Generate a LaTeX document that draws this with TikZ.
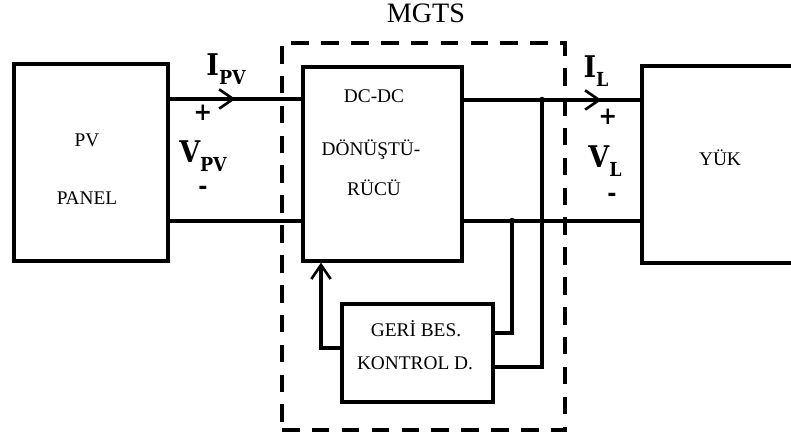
\documentclass[tikz,border=0pt]{standalone}
\usepackage{fontspec}
\setmainfont{Liberation Serif}
\newfontfamily\sigfont{DejaVu Serif Condensed}
\usetikzlibrary{arrows.meta,decorations.markings}

\newcommand{\siglabel}[2]{{\sigfont\bfseries\fontsize{17}{17}\selectfont #1\raisebox{-0.55ex}{\fontsize{11}{11}\selectfont #2}}}

\begin{document}
\begin{tikzpicture}[x=0.02cm, y=-0.02cm,
  blok/.style={draw, line width=1.9pt, inner sep=0pt},
  wire/.style={line width=1.9pt},
  barb/.style={-{Straight Barb[length=8pt,width=11pt,line width=1.5pt]}},
  midbarb/.style={postaction={decorate}, decoration={markings,
    mark=at position #1 with {\arrow{Straight Barb[length=8pt,width=11pt,line width=1.5pt]}}}},
  txt/.style={font=\fontsize{11}{13}\selectfont, inner sep=0pt},
  sign/.style={font=\sigfont\bfseries\fontsize{14}{14}\selectfont, inner sep=0pt},
  mgtsbox/.style={draw, line width=2.3pt, dash pattern=on 10 off 7, inner sep=0pt}]
\useasboundingbox (0,0) rectangle (791,438);
\clip (0,0) rectangle (791,438);

% blocks
\node[blok, minimum width=3.08cm, minimum height=3.94cm] (pv) at (91,162.5) {};
\node[blok, minimum width=3.18cm, minimum height=3.88cm] (dc) at (382.5,164) {};
\node[blok, minimum width=3.16cm, minimum height=3.94cm] (yuk) at (721,164.5) {};
\node[blok, minimum width=3.02cm, minimum height=1.96cm] (ctrl) at (417.5,353) {};
\node[mgtsbox, minimum width=5.66cm, minimum height=7.74cm] (mgts) at (423.5,236.5) {};

% texts
\node[font=\fontsize{16}{18}\selectfont] (mgtslbl) at (426,13) {MGTS};
\node[txt] (pvtxt) at (87,140) {PV};
\node[txt] (paneltxt) at (87,198) {PANEL};
\node[txt] (dctxt) at (374,96) {DC-DC};
\node[txt] (donustu) at (371,150) {DÖNÜŞTÜ-};
\node[txt] (rucu) at (374,188) {RÜCÜ};
\node[txt] (yuktxt) at (720,158) {YÜK};
\node[txt] (geri) at (416,329) {GERİ BES.};
\node[txt] (kontrol) at (415,363) {KONTROL D.};

% signals
\node[inner sep=0pt] (ipv) at (226,69) {\siglabel{I}{PV}};
\node[inner sep=0pt] (vpv) at (203,156) {\siglabel{V}{PV}};
\node[sign] (ppv) at (203,113) {+};
\node[sign] (mpv) at (203,190) {-};
\node[inner sep=0pt] (il) at (596,71) {\siglabel{I}{L}};
\node[inner sep=0pt] (vl) at (605,161) {\siglabel{V}{L}};
\node[sign] (pl) at (608,117) {+};
\node[sign] (ml) at (612,197) {-};

% wires
\coordinate (inl) at (0,99);
\coordinate (outl) at (0,100);
\coordinate (botl) at (0,221);
\coordinate (jt) at (542,100);
\coordinate (jb) at (512,221);
\coordinate (c1) at (0,333);
\coordinate (c2) at (0,367);
\coordinate (fb) at (321,348);

\draw[wire, midbarb=0.5] (pv.east|-inl) -- (dc.west|-inl);
\draw[wire] (pv.east|-botl) -- (dc.west|-botl);
\draw[wire, midbarb=0.78] (dc.east|-outl) -- (yuk.west|-outl);
\draw[wire] (dc.east|-botl) -- (yuk.west|-botl);
\draw[wire] (jb) |- (ctrl.east|-c1);
\draw[wire] (jt) |- (ctrl.east|-c2);
\draw[wire, barb] (ctrl.west|-fb) -| (dc.south-|fb);
\fill (jt) circle (1.8pt);
\fill (jb) circle (1.8pt);
\end{tikzpicture}
\end{document}
